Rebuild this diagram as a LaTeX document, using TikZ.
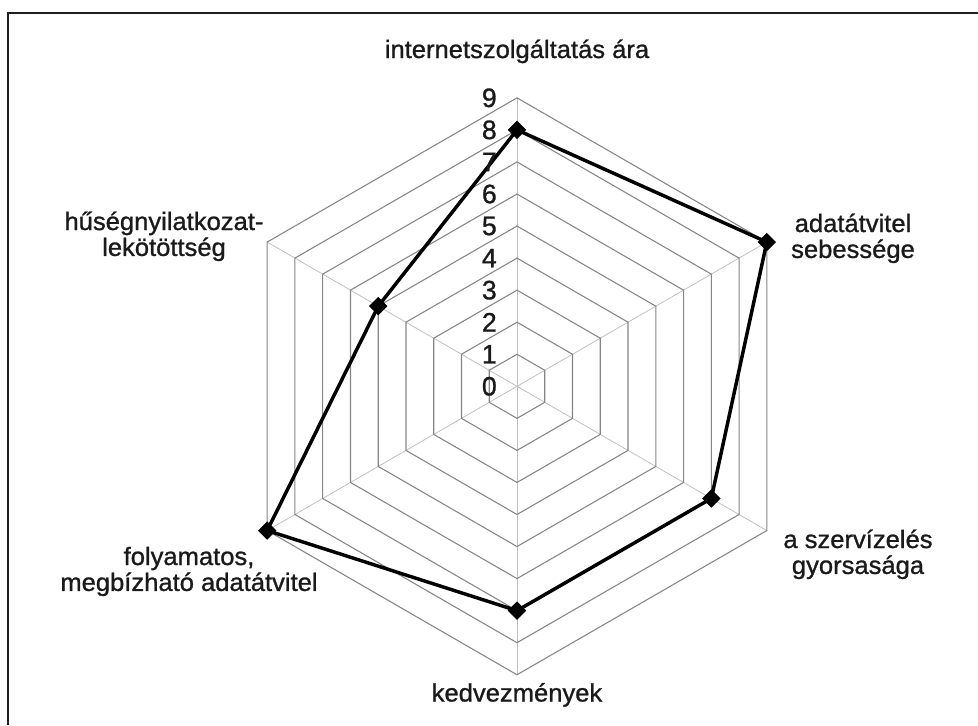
\documentclass[tikz,border=0pt]{standalone}
\usepackage{fontspec}
\setmainfont{Liberation Sans}[FakeBold=1.0]
\usepackage{graphicx}
\usetikzlibrary{shapes.geometric}
\definecolor{gridgrey}{HTML}{858585}
\definecolor{spokegrey}{HTML}{C0C0C0}
\definecolor{framecol}{HTML}{1E1E1E}
\definecolor{textcol}{HTML}{1A1A1A}
\newcommand{\mylbl}[1]{\scalebox{1.02}[1]{\begin{tabular}[t]{@{}c@{}}#1\end{tabular}}}
\tikzset{
  gridline/.style={draw=gridgrey, line width=0.8pt},
  spoke/.style={draw=spokegrey, line width=0.6pt},
  dataline/.style={draw=black, line width=2.6pt, line join=miter},
  marker/.style={diamond, fill=black, inner sep=0pt, minimum size=14pt},
  axislabel/.style={anchor=base, inner sep=0pt, text=textcol},
  ticklabel/.style={anchor=east, inner sep=0pt, text=textcol, font=\fontsize{20pt}{20pt}\selectfont},
  framerule/.style={draw=framecol, line width=1.5pt}
}
\begin{document}
\begin{tikzpicture}[x=0.75pt, y=-0.75pt, font=\fontsize{18.8pt}{18.6pt}\selectfont]
\useasboundingbox (0,0) rectangle (978,725);
% frame (only top and left edges visible)
\coordinate (fTL) at (7.5,12.5);
\coordinate (fTR) at (978,12.5);
\coordinate (fBL) at (7.5,725);
\draw[framerule] (fBL) -- (fTL) -- (fTR);

\begin{scope}[shift={(517,386.3)}, x=0.75pt, y=0.75pt]
  \coordinate (O) at (0,0);
  % spokes
  \foreach \a/\n in {90/1,30/2,-30/3,-90/4,210/5,150/6}{
    \coordinate (v\n) at (\a:288.45);
    \draw[spoke] (O) -- (v\n);
  }
  % hexagon rings
  \foreach \k in {1,...,9}{
    \draw[gridline] (90:{\k*32.05}) -- (30:{\k*32.05}) -- (-30:{\k*32.05})
      -- (-90:{\k*32.05}) -- (210:{\k*32.05}) -- (150:{\k*32.05}) -- cycle;
  }
  % data points
  \coordinate (d1) at (90:{8*32.05});
  \coordinate (d2) at (30:{9*32.05});
  \coordinate (d3) at (-30:{7*32.05});
  \coordinate (d4) at (-90:{7*32.05});
  \coordinate (d5) at (210:{9*32.05});
  \coordinate (d6) at (150:{5*32.05});
  \draw[dataline] (d1) -- (d2) -- (d3) -- (d4) -- (d5) -- (d6) -- cycle;
  \foreach \n in {1,...,6}{
    \node[marker] (p\n) at (d\n) {};
  }
\end{scope}

% tick labels
\foreach \k in {0,...,9}{
  \node[ticklabel] (t\k) at (497,{386.3-\k*32.05}) {\k};
}

% axis labels
\node[axislabel] (l1) at (517,58) {\mylbl{internetszolgáltatás ára}};
\node[axislabel] (l2) at (853,232) {\mylbl{adatátvitel\\sebessége}};
\node[axislabel] (l3) at (858,548) {\mylbl{a szervízelés\\gyorsasága}};
\node[axislabel] (l4) at (517,701.5) {\mylbl{kedvezmények}};
\node[axislabel] (l5) at (189,565) {\mylbl{folyamatos,\\megbízható adatátvitel}};
\node[axislabel] (l6) at (164,230) {\mylbl{hűségnyilatkozat-\\lekötöttség}};
\end{tikzpicture}
\end{document}
